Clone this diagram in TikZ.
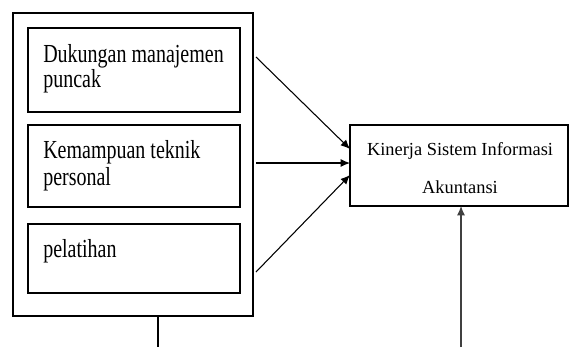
\documentclass[tikz,border=0pt]{standalone}
\usepackage{fontspec}
\usepackage{graphicx}
\setmainfont{Liberation Serif}
\usetikzlibrary{arrows.meta}
\newcommand{\tallstr}[1]{\scalebox{1}[1.3]{#1}}
\begin{document}
\begin{tikzpicture}[x=0.75pt,y=-0.75pt,
  box/.style={draw=black,line width=0.9pt,rectangle,inner sep=0pt},
  lbl/.style={anchor=base west,inner sep=0pt,font=\fontsize{15}{18}\selectfont},
  rlbl/.style={anchor=base,inner sep=0pt,font=\fontsize{13.8}{16}\selectfont},
  arr/.style={draw=black,line width=0.8pt,-{Latex[length=7pt,width=6pt]}}]
\useasboundingbox (0,0) rectangle (570,347);
\fill[white] (0,0) rectangle (570,347);
% outer box
\node[box,minimum width=240*0.75pt,minimum height=303*0.75pt] (outer) at (133,164.5) {};
% inner boxes
\node[box,minimum width=212*0.75pt,minimum height=84*0.75pt] (b1) at (134,70) {};
\node[box,minimum width=212*0.75pt,minimum height=82*0.75pt] (b2) at (134,166) {};
\node[box,minimum width=212*0.75pt,minimum height=69*0.75pt] (b3) at (134,258.5) {};
\node[lbl] (t1a) at (43,62) {\tallstr{Dukungan manajemen}};
\node[lbl] (t1b) at (43,87) {\tallstr{puncak}};
\node[lbl] (t2a) at (43,158) {\tallstr{Kemampuan teknik}};
\node[lbl] (t2b) at (43,185) {\tallstr{personal}};
\node[lbl] (t3) at (43,257) {\tallstr{pelatihan}};
% right box
\node[box,minimum width=218*0.75pt,minimum height=81*0.75pt] (kin) at (459,165.5) {};
\node[rlbl] (k1) at (460,155) {Kinerja Sistem Informasi};
\node[rlbl] (k2) at (460,193) {Akuntansi};
% arrows
\coordinate (s1) at (256,57);
\coordinate (s2) at (256,163);
\coordinate (s3) at (256,272);
\coordinate (e1) at (350,149);
\coordinate (e2) at (350,163);
\coordinate (e3) at (350,175);
\draw[arr] (s1) -- (e1);
\draw[arr] (s2) -- (e2);
\draw[arr] (s3) -- (e3);
% bottom lines
\coordinate (ob) at (158,316);
\coordinate (obend) at (158,347);
\draw[line width=0.9pt] (ob) -- (obend);
\coordinate (vb) at (461,347);
\coordinate (vt) at (461,206);
\draw[arr,draw=black!75] (vb) -- (vt);
\end{tikzpicture}
\end{document}
